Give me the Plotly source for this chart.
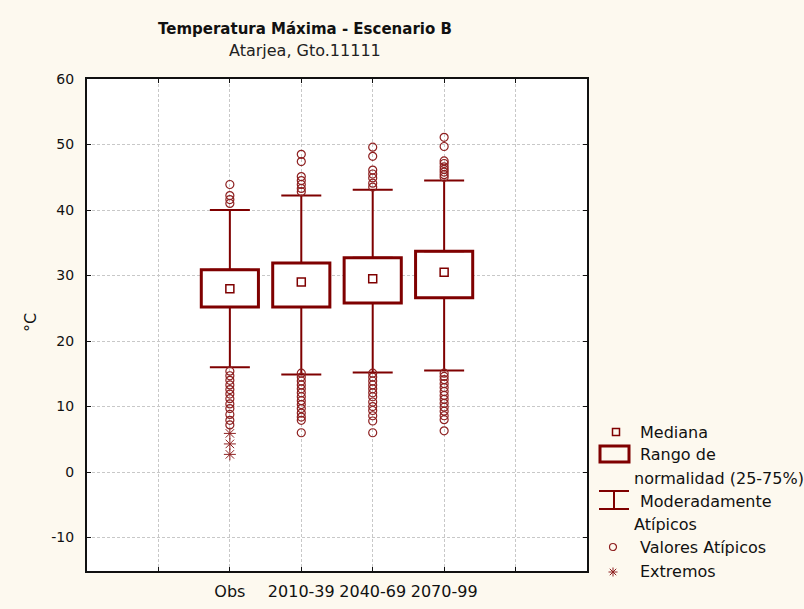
import plotly.graph_objects as go

# Box-plot summary per period (°C)
categories = ["Obs", "2010-39", "2040-69", "2070-99"]
q1 = [25.2, 25.2, 25.8, 26.6]
median = [28.0, 29.0, 29.5, 30.5]
q3 = [30.9, 31.9, 32.7, 33.7]
whisker_low = [16.0, 14.9, 15.2, 15.5]
whisker_high = [40.0, 42.2, 43.1, 44.5]

# Outliers (circles) and extremes (asterisks) per period
outliers = {
    "Obs": [43.9, 42.2, 41.6, 41.0,
            15.4, 14.7, 14.0, 13.3, 12.6, 11.9, 11.2, 10.4, 9.7, 8.8, 7.9, 7.2],
    "2010-39": [48.5, 47.4, 45.1, 44.5, 43.9, 43.3, 42.8,
                15.1, 14.5, 13.9, 13.3, 12.7, 12.1, 11.5, 10.9, 10.3, 9.7, 9.0, 8.4, 7.9, 6.0],
    "2040-69": [49.6, 48.2, 46.1, 45.5, 44.9, 44.1, 43.5,
                15.1, 14.5, 13.9, 13.3, 12.7, 12.1, 11.5, 10.7, 10.0, 9.4, 8.6, 7.8, 6.0],
    "2070-99": [51.1, 49.7, 47.5, 47.1, 46.6, 46.2, 45.8, 45.4, 45.0,
                15.1, 14.6, 14.1, 13.5, 12.9, 12.3, 11.7, 11.1, 10.5, 9.9, 9.3, 8.6, 8.0, 6.3],
}
extremes = {"Obs": [5.9, 4.3, 2.7]}

y_ticks = [-10, 0, 10, 20, 30, 40, 50, 60]
y_ticktext = ["-10", "0", "10", "20", "30", "40", "50", "60"]

DARK = "#7F0000"
MARK = "#8E2020"
BG = "#FDF9EF"
FONT = "DejaVu Sans"

pos = list(range(len(categories)))

fig = go.Figure()

# lower whiskers (transparent bar from the lower fence to Q1, error bar going down)
fig.add_trace(go.Bar(
    x=pos, base=whisker_low, y=[a - b for a, b in zip(q1, whisker_low)],
    width=0.8, marker=dict(color="rgba(0,0,0,0)", line=dict(width=0)),
    error_y=dict(type="data", symmetric=False,
                 array=[0] * len(pos),
                 arrayminus=[a - b for a, b in zip(q1, whisker_low)],
                 color=DARK, thickness=2, width=20),
    showlegend=False, hoverinfo="skip"))

# boxes Q1..Q3 with the upper whisker as error bar
fig.add_trace(go.Bar(
    x=pos, base=q1, y=[a - b for a, b in zip(q3, q1)],
    width=0.8, marker=dict(color="white", line=dict(color=DARK, width=3)),
    error_y=dict(type="data", symmetric=False,
                 array=[a - b for a, b in zip(whisker_high, q3)],
                 arrayminus=[0] * len(pos),
                 color=DARK, thickness=2, width=20),
    showlegend=False, hoverinfo="skip"))

# medians
fig.add_trace(go.Scatter(
    x=pos, y=median, mode="markers",
    marker=dict(symbol="square-open", size=8, color=DARK, line=dict(width=1.5)),
    showlegend=False))

# outliers
ox, oy = [], []
for i, c in enumerate(categories):
    for v in outliers.get(c, []):
        ox.append(i)
        oy.append(v)
fig.add_trace(go.Scatter(
    x=ox, y=oy, mode="markers",
    marker=dict(symbol="circle-open", size=8, color=MARK, line=dict(width=1.2)),
    showlegend=False))

# extremes
ex, ey = [], []
for i, c in enumerate(categories):
    for v in extremes.get(c, []):
        ex.append(i)
        ey.append(v)
fig.add_trace(go.Scatter(
    x=ex, y=ey, mode="markers",
    marker=dict(symbol="asterisk-open", size=10, color=MARK, line=dict(width=1)),
    showlegend=False))

# plot-area geometry in pixels (used to place the title and legend)
W, H = 804, 609
L, R, T, B = 87, 587, 79, 571


def px(x):
    return (x - L) / (R - L)


def py(y):
    return (B - y) / (B - T)


annotations = [
    dict(text="<b>Temperatura Máxima - Escenario B</b>", x=px(305), y=py(29),
         font=dict(family=FONT, size=15, color="#111")),
    dict(text="Atarjea, Gto.11111", x=px(305), y=py(50),
         font=dict(family=FONT, size=16, color="#222")),
    dict(text="°C", x=px(30), y=py(323), textangle=-90,
         font=dict(family=FONT, size=16, color="#111")),
]
for a in annotations:
    a.update(xref="paper", yref="paper", showarrow=False,
             xanchor="center", yanchor="middle")

# legend
legend_text = [
    ("Mediana", 638, 432),
    ("Rango de", 638, 455),
    ("normalidad (25-75%)", 632, 478),
    ("Moderadamente", 638, 501),
    ("Atípicos", 632, 524),
    ("Valores Atípicos", 638, 547),
    ("Extremos", 638, 571),
]
for t, x, y in legend_text:
    annotations.append(dict(text=t, x=px(x), y=py(y), xref="paper", yref="paper",
                            showarrow=False, xanchor="left", yanchor="middle",
                            font=dict(family=FONT, size=16, color="#111")))

shapes = []


def seg(x0, y0, x1, y1, w=2, color=DARK):
    shapes.append(dict(type="line", xref="paper", yref="paper",
                       x0=px(x0), y0=py(y0), x1=px(x1), y1=py(y1),
                       line=dict(color=color, width=w)))


# median key
shapes.append(dict(type="rect", xref="paper", yref="paper",
                   x0=px(612.5), x1=px(619.5), y0=py(428.5), y1=py(435.5),
                   line=dict(color=DARK, width=1.5)))
# box key
shapes.append(dict(type="rect", xref="paper", yref="paper",
                   x0=px(600), x1=px(629), y0=py(446), y1=py(462),
                   line=dict(color=DARK, width=3)))
# whisker key
seg(599, 491, 629, 491)
seg(614, 491, 614, 509)
seg(599, 509, 629, 509)
# outlier key
shapes.append(dict(type="circle", xref="paper", yref="paper",
                   x0=px(609.5), x1=px(616.5), y0=py(543.5), y1=py(550.5),
                   line=dict(color=MARK, width=1.2)))
# extreme key
cx, cy, r = 613, 572, 4.5
seg(cx - r, cy, cx + r, cy, 1, MARK)
seg(cx, cy - r, cx, cy + r, 1, MARK)
seg(cx - r * 0.72, cy - r * 0.72, cx + r * 0.72, cy + r * 0.72, 1, MARK)
seg(cx - r * 0.72, cy + r * 0.72, cx + r * 0.72, cy - r * 0.72, 1, MARK)

grid = dict(showgrid=True, gridcolor="#C8C8C8", gridwidth=1, griddash="3px,2px")

fig.update_layout(
    width=W, height=H,
    margin=dict(l=L, r=W - R, t=T, b=H - B, autoexpand=False),
    paper_bgcolor=BG, plot_bgcolor="white",
    barmode="overlay",
    showlegend=False,
    annotations=annotations,
    shapes=shapes,
    xaxis=dict(range=[-2, 5],
               tickmode="array",
               tickvals=list(range(-1, len(categories) + 1)),
               ticktext=[""] + categories + [""],
               ticks="inside", ticklen=4, tickcolor="#111",
               showline=True, linecolor="#111", linewidth=2, mirror="ticks",
               zeroline=False, ticklabelstandoff=5, automargin=False,
               tickfont=dict(family=FONT, size=16, color="#111"),
               **grid),
    yaxis=dict(range=[-15.1, 60],
               tickmode="array", tickvals=y_ticks, ticktext=y_ticktext,
               ticks="inside", ticklen=4, tickcolor="#111",
               showline=True, linecolor="#111", linewidth=2, mirror="ticks",
               zeroline=False, ticklabelstandoff=8, automargin=False,
               tickfont=dict(family=FONT, size=14, color="#111"),
               **grid),
)

fig.write_html("out.html")
